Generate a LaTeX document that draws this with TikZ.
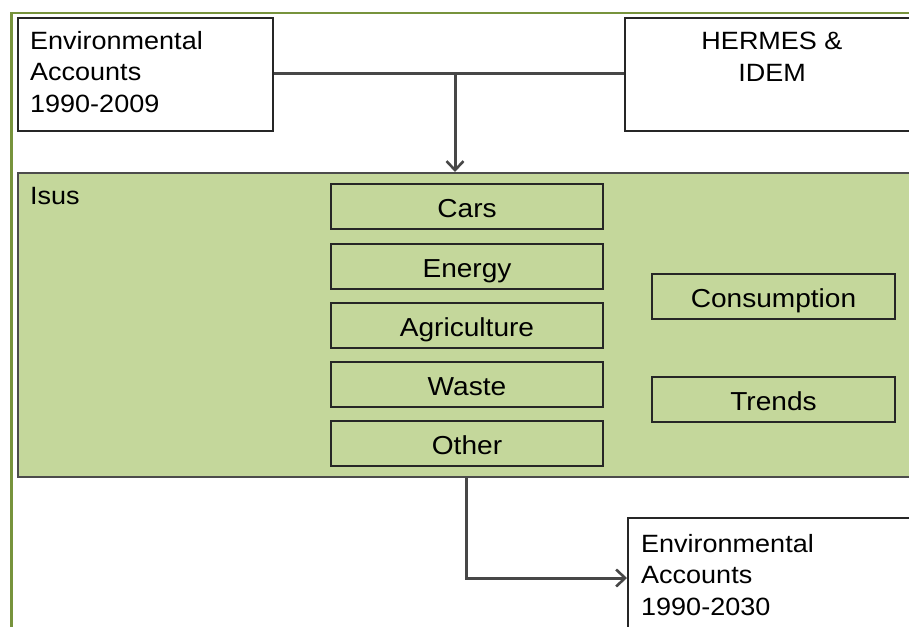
\documentclass[tikz,border=0pt]{standalone}
\usepackage{fontspec}
\setmainfont[FakeStretch=1.08]{Liberation Sans}
\usetikzlibrary{arrows.meta}
\definecolor{frameGreen}{HTML}{77933C}
\definecolor{fillGreen}{HTML}{C4D79B}
\definecolor{lineGrey}{HTML}{474747}
\tikzset{
  boxW/.style={draw=black!85, line width=1.8pt, fill=white, rectangle, inner sep=0pt, anchor=north west},
  boxG/.style={draw=black!70, line width=1.8pt, fill=fillGreen, rectangle, inner sep=0pt, anchor=north west},
  itembox/.style={draw=black!85, line width=1.6pt, fill=fillGreen, rectangle, inner sep=0pt, minimum height=45pt, text height=22pt, text depth=0pt, font=\fontsize{26}{30}\selectfont},
  lbl/.style={font=\fontsize{25}{31.5}\selectfont, inner sep=0pt},
  conn/.style={draw=lineGrey, line width=3pt},
  arr/.style={conn, -{Straight Barb[length=9pt,width=17pt,line width=2.6pt]}}
}
\begin{document}
\begin{tikzpicture}[x=1pt,y=-1pt]
\useasboundingbox (0,0) rectangle (909,626);
\clip (0,0) rectangle (909,626);
% outer frame
\draw[frameGreen, line width=2.4pt] (11.5,640) -- (11.5,13) -- (920,13);
% top boxes
\node[boxW, minimum width=255pt, minimum height=113pt] (ea1) at (17,17) {};
\node[lbl, anchor=north west, align=left] (ea1t) at (30,31) {Environmental\\Accounts\\1990-2009};
\node[boxW, minimum width=300pt, minimum height=113pt] (hermes) at (624,17) {};
\node[lbl, anchor=north, align=center] (hermest) at (772,32) {HERMES \&\\IDEM};
% green box
\node[boxG, minimum width=910pt, minimum height=304pt] (isus) at (17,172) {};
\node[lbl, anchor=north west] (isust) at (30,187) {Isus};
% items
\node[itembox, minimum width=272pt] (cars) at (467,206.5) {Cars};
\node[itembox, minimum width=272pt] (energy) at (467,266.5) {Energy};
\node[itembox, minimum width=272pt] (agri) at (467,325.5) {Agriculture};
\node[itembox, minimum width=272pt] (waste) at (467,384.5) {Waste};
\node[itembox, minimum width=272pt] (other) at (467,443.5) {Other};
\node[itembox, minimum width=243pt] (cons) at (773.5,296.5) {Consumption};
\node[itembox, minimum width=243pt] (trends) at (773.5,399.5) {Trends};
% bottom box
\node[boxW, minimum width=300pt, minimum height=130pt] (ea2) at (627,517) {};
\node[lbl, anchor=north west, align=left] (ea2t) at (641,534) {Environmental\\Accounts\\1990-2030};
% connectors
\coordinate (j) at (455,73);
\draw[conn] (ea1.east |- j) -- (hermes.west |- j);
\draw[arr] (j) -- (j |- isus.north);
\coordinate (b) at (466,578);
\draw[arr] (b |- isus.south) -- (b) -- (ea2.west |- b);
\end{tikzpicture}
\end{document}
